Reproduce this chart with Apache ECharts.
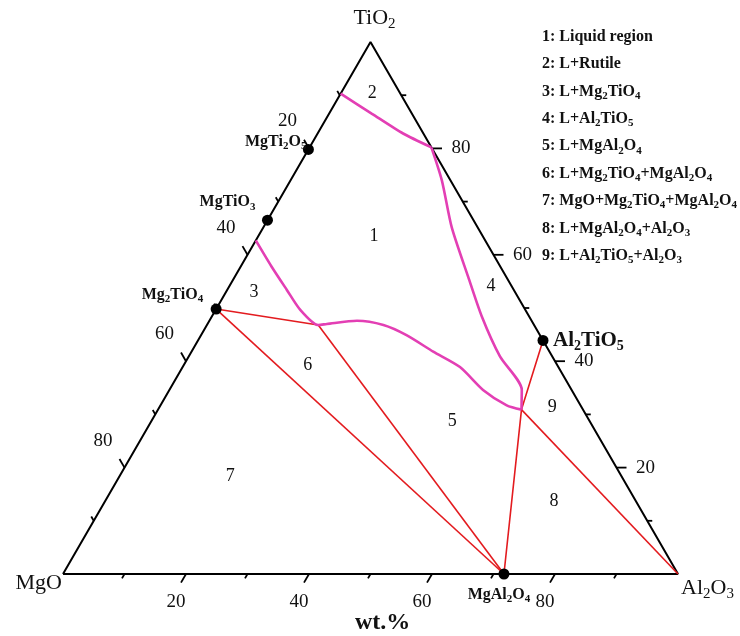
<!DOCTYPE html>
<html>
<head>
<meta charset="utf-8">
<script src="https://cdn.jsdelivr.net/npm/echarts@6/dist/echarts.min.js"></script>
<style>html,body{margin:0;padding:0;background:#fff}#c{width:740px;height:636px}</style>
</head>
<body>
<div id="c"></div>
<script>
// All compositions are [MgO, Al2O3, TiO2] in wt.%
const vertexNames = ['MgO', 'Al2O3', 'TiO2'];
const vertexComps = [[100, 0, 0], [0, 100, 0], [0, 0, 100]];

const compoundNames = ['MgTi2O5', 'MgTiO3', 'Mg2TiO4', 'Al2TiO5', 'MgAl2O4'];
const compoundComps = [[20.2, 0, 79.8], [33.5, 0, 66.5], [50.2, 0, 49.8], [0, 56.1, 43.9], [28.3, 71.7, 0]];

// invariant points
const pointP1 = [35.1, 18.1, 46.8];
const pointP2 = [10.0, 59.1, 30.9];

// liquidus boundaries (magenta)
const rutileBoundary = [[9.7, 0, 90.3], [6.5, 7.0, 86.5], [3.3, 13.9, 82.8], [0, 19.8, 80.2]];
const al2tio5Boundary = [[0, 19.8, 80.2], [1.4, 24.6, 74.0], [4.2, 30.6, 65.2], [6.2, 38.0, 55.8],
  [7.7, 43.9, 48.4], [8.5, 50.6, 40.9], [8.1, 57.3, 34.6], [10.0, 59.1, 30.9]];
const lowerBoundary = [[37.3, 0, 62.7], [37.2, 5.0, 57.8], [36.9, 9.7, 53.4], [36.6, 13.7, 49.7],
  [35.1, 18.1, 46.8], [33.6, 19.4, 47.0], [28.4, 24.0, 47.6], [24.5, 28.7, 46.8], [21.7, 33.4, 44.9],
  [18.9, 39.3, 41.8], [16.0, 45.1, 38.9], [14.4, 51.0, 34.6], [12.0, 56.3, 31.7], [10.0, 59.1, 30.9]];

// tie lines (red)
const tieLines = [
  [compoundComps[2], pointP1],
  [pointP1, compoundComps[4]],
  [compoundComps[2], compoundComps[4]],
  [compoundComps[3], pointP2, compoundComps[4]],
  [pointP2, vertexComps[1]]
];

const regionNames = ['1', '2', '3', '4', '5', '6', '7', '8', '9'];
const regionComps = [[17.7, 18.8, 63.5], [4.5, 5.1, 90.4], [42.5, 4.6, 52.9], [3.4, 42.6, 54.0],
  [22.3, 48.9, 28.8], [40.6, 20.2, 39.2], [63.6, 18.0, 18.4], [13.3, 73.0, 13.7], [4.8, 63.9, 31.3]];

const legendItems = ['1: Liquid region', '2: L+Rutile', '3: L+Mg2TiO4', '4: L+Al2TiO5', '5: L+MgAl2O4',
  '6: L+Mg2TiO4+MgAl2O4', '7: MgO+Mg2TiO4+MgAl2O4', '8: L+MgAl2O4+Al2O3', '9: L+Al2TiO5+Al2O3'];

const tickValues = [10, 20, 30, 40, 50, 60, 70, 80, 90];
const tickLabelValues = [20, 40, 60, 80];
const axisTitle = 'wt.%';

// ---------------------------------------------------------------
const SERIF = '"Liberation Serif","Times New Roman",serif';
const INK = '#111';
const RED = '#e31b1f';
const MAGENTA = '#e33fb4';
const S3 = Math.sqrt(3) / 2;
const toXY = c => [c[1] + c[2] / 2, c[2] * S3];
const fm = s => s.replace(/([A-Za-z])(\d+)/g, '$1{s|$2}');
function richSub(fs, bold) {
  return { s: { fontSize: Math.round(fs * 0.68), fontFamily: SERIF, fontWeight: bold ? 'bold' : 'normal',
    color: INK, padding: [Math.round(fs * 0.55), 0, 0, 0] } };
}
function lbl(fs, bold, extra) {
  return Object.assign({ show: true, position: 'inside', fontFamily: SERIF, fontSize: fs,
    fontWeight: bold ? 'bold' : 'normal', color: INK, lineHeight: Math.round(fs * 1.2),
    rich: richSub(fs, bold) }, extra || {});
}

const tickAxes = [
  { comp: v => [100 - v, v, 0], dir: [-0.5, S3], off: [-10, 28] },   // bottom: Al2O3
  { comp: v => [v, 0, 100 - v], dir: [-0.5, -S3], off: [-21.5, -27] }, // left: MgO
  { comp: v => [0, 100 - v, v], dir: [1, 0], off: [29, 0] }            // right: TiO2
];
const tickData = [];
tickAxes.forEach((a, i) => tickValues.forEach(v => tickData.push([...toXY(a.comp(v)), i, v])));

const opaque = { opacity: 1 };
const series = [];
// triangle
series.push({ type: 'line', data: [0, 1, 2, 0].map(i => toXY(vertexComps[i])), symbol: 'none',
  lineStyle: { color: '#000', width: 2 }, z: 2, silent: true });
// ticks
series.push({ type: 'custom', data: tickData, encode: { x: 0, y: 1 }, z: 2, silent: true,
  renderItem: (params, api) => {
    const p = api.coord([api.value(0), api.value(1)]);
    const a = tickAxes[api.value(2)];
    const len = api.value(3) % 20 === 0 ? 10 : 5;
    return { type: 'line', shape: { x1: p[0], y1: p[1], x2: p[0] + a.dir[0] * len, y2: p[1] + a.dir[1] * len },
      style: { stroke: '#000', lineWidth: 1.8 } };
  } });
// tick labels
tickAxes.forEach(a => series.push({ type: 'scatter', symbolSize: 0, silent: true, z: 5, itemStyle: opaque,
  data: tickLabelValues.map(v => ({ value: toXY(a.comp(v)), name: String(v) })),
  label: lbl(19, false, { formatter: p => p.name, offset: a.off }) }));
// tie lines
tieLines.forEach(l => series.push({ type: 'line', data: l.map(toXY), symbol: 'none', z: 3, silent: true,
  lineStyle: { color: RED, width: 1.6 } }));
// boundaries
[rutileBoundary, al2tio5Boundary, lowerBoundary].forEach(b => series.push({ type: 'line', data: b.map(toXY),
  symbol: 'none', smooth: 0.25, z: 4, silent: true, lineStyle: { color: MAGENTA, width: 2.6 } }));
// compounds
const compLabel = {
  MgTi2O5: lbl(16, true, { align: 'right', offset: [-2, -8] }),
  MgTiO3: lbl(16, true, { align: 'right', offset: [-12, -18] }),
  Mg2TiO4: lbl(16, true, { align: 'right', offset: [-13, -14] }),
  Al2TiO5: lbl(21, true, { align: 'left', offset: [10, 0] }),
  MgAl2O4: lbl(16, true, { align: 'center', offset: [-5, 21] })
};
series.push({ type: 'scatter', symbol: 'circle', symbolSize: 11, z: 6, silent: true,
  itemStyle: { color: '#000', opacity: 1 },
  data: compoundNames.map((n, i) => ({ value: toXY(compoundComps[i]), name: n,
    label: Object.assign({ formatter: fm(n) }, compLabel[n]) })) });
// vertex labels
const vertexLabel = {
  MgO: lbl(22, false, { align: 'right', offset: [-1, 9] }),
  Al2O3: lbl(22, false, { align: 'left', offset: [3, 14] }),
  TiO2: lbl(22, false, { align: 'center', offset: [4, -24] })
};
series.push({ type: 'scatter', symbolSize: 0, z: 5, silent: true, itemStyle: opaque,
  data: vertexNames.map((n, i) => ({ value: toXY(vertexComps[i]), name: n,
    label: Object.assign({ formatter: fm(n) }, vertexLabel[n]) })) });
// region numbers
series.push({ type: 'scatter', symbolSize: 0, z: 5, silent: true, itemStyle: opaque,
  data: regionNames.map((n, i) => ({ value: toXY(regionComps[i]), name: n })),
  label: lbl(18, false, { formatter: p => p.name }) });

const chart = echarts.init(document.getElementById('c'), null, { renderer: 'canvas' });
chart.setOption({
  animation: false,
  backgroundColor: '#fff',
  grid: { left: 63, top: 42, width: 615, height: 532 },
  xAxis: { type: 'value', min: 0, max: 100, show: false },
  yAxis: { type: 'value', min: 0, max: 50 * Math.sqrt(3), show: false },
  title: [
    { left: 542, top: 23, padding: 0, text: legendItems.map(fm).join('\n'),
      textStyle: { fontFamily: SERIF, fontWeight: 'bold', fontSize: 16, lineHeight: 27.4, color: INK,
        rich: richSub(16, true) } },
    { left: 355, top: 611, padding: 0, text: axisTitle,
      textStyle: { fontFamily: SERIF, fontWeight: 'bold', fontSize: 24, lineHeight: 24, color: INK } }
  ],
  series: series
});
</script>
</body>
</html>
